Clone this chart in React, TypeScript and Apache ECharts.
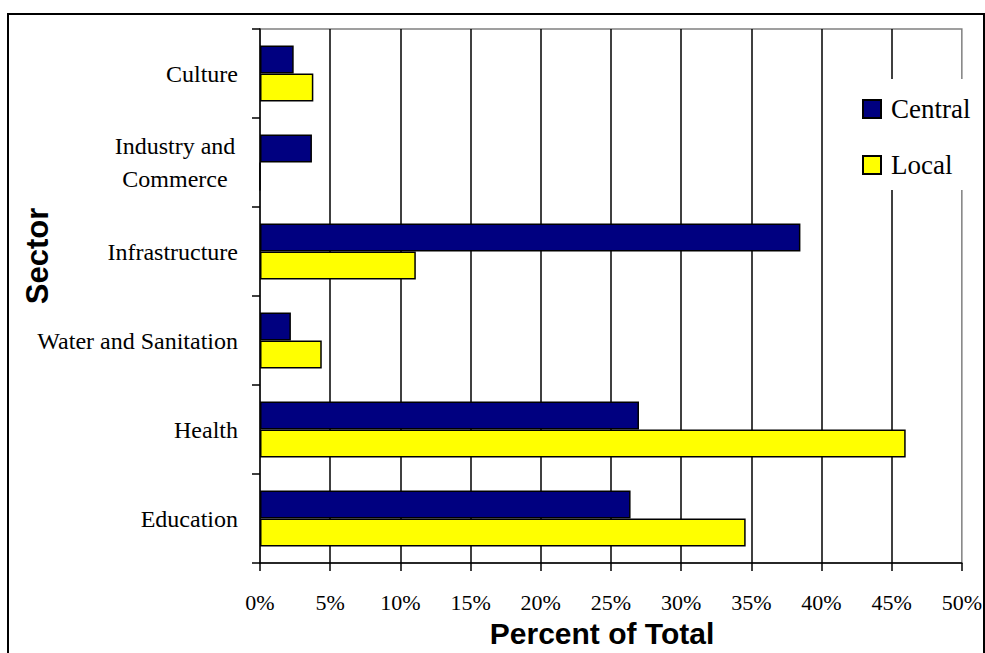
import React, { useEffect, useRef } from "react";
import * as echarts from "echarts";

const categories = [
  "Culture",
  "Industry and\nCommerce",
  "Infrastructure",
  "Water and Sanitation",
  "Health",
  "Education",
];
const centralValues = [2.4, 3.7, 38.5, 2.2, 27.0, 26.4];
const localValues = [3.8, 0, 11.1, 4.4, 46.0, 34.6];
const seriesNames = ["Central", "Local"];
const xTicks = [0, 5, 10, 15, 20, 25, 30, 35, 40, 45, 50];
const xTitle = "Percent of Total";
const yTitle = "Sector";

const SERIF = "'Liberation Serif', 'Times New Roman', serif";
const SANS = "'Liberation Sans', Arial, sans-serif";

export default function App() {
  const ref = useRef<HTMLDivElement>(null);
  useEffect(() => {
    document.body.style.margin = "0";
    if (!ref.current) return;
    const chart = echarts.init(ref.current, undefined, { renderer: "svg" });
    chart.setOption({
      animation: false,
      backgroundColor: "#ffffff",
      grid: {
        left: 260,
        right: 23,
        top: 29,
        bottom: 90,
        show: true,
        borderColor: "#808080",
        borderWidth: 1.5,
      },
      legend: {
        orient: "vertical",
        left: 850,
        top: 79,
        padding: [16, 6, 11, 12],
        backgroundColor: "#ffffff",
        icon: "rect",
        itemWidth: 18,
        itemHeight: 18,
        itemGap: 28,
        data: seriesNames,
        textStyle: {
          fontFamily: SERIF,
          fontSize: 27,
          lineHeight: 28,
          color: "#000",
          padding: [0, 0, 0, 5],
        },
      },
      xAxis: {
        type: "value",
        position: "bottom",
        min: xTicks[0],
        max: xTicks[xTicks.length - 1],
        interval: 5,
        axisLine: { show: true, onZero: false, lineStyle: { color: "#000", width: 1.5 } },
        axisTick: { show: true, inside: false, length: 8, lineStyle: { color: "#000", width: 1.5 } },
        axisLabel: {
          margin: 28,
          fontFamily: SERIF,
          fontSize: 22,
          color: "#000",
          formatter: (v: number) => `${v}%`,
        },
        splitLine: {
          show: true,
          showMinLine: false,
          showMaxLine: false,
          lineStyle: { color: "#000", width: 1.5 },
        },
      },
      yAxis: {
        type: "category",
        inverse: true,
        data: categories,
        axisLine: { show: true, lineStyle: { color: "#000", width: 1.5 } },
        axisTick: { show: true, inside: false, length: 8, lineStyle: { color: "#000", width: 1.5 } },
        axisLabel: {
          margin: 22,
          fontFamily: SERIF,
          fontSize: 24,
          color: "#000",
          formatter: (v: string) =>
            v.indexOf("\n") >= 0
              ? v
                  .split("\n")
                  .map((s) => `{c|${s}}`)
                  .join("\n")
              : v,
          rich: {
            c: {
              width: 126,
              align: "center",
              fontFamily: SERIF,
              fontSize: 24,
              lineHeight: 33,
              color: "#000",
            },
          },
        },
        splitLine: { show: false },
      },
      series: [
        {
          name: seriesNames[0],
          type: "bar",
          data: centralValues,
          barGap: "0%",
          barCategoryGap: "37%",
          itemStyle: { color: "#000080", borderColor: "#000", borderWidth: 1.5 },
        },
        {
          name: seriesNames[1],
          type: "bar",
          data: localValues,
          barGap: "0%",
          barCategoryGap: "37%",
          itemStyle: { color: "#ffff00", borderColor: "#000", borderWidth: 1.5 },
        },
      ],
      graphic: [
        {
          type: "rect",
          shape: { x: 8, y: 14, width: 976, height: 700 },
          style: { fill: "none", stroke: "#000", lineWidth: 2 },
          silent: true,
          z: 100,
        },
        {
          type: "text",
          x: 602,
          y: 648,
          style: {
            text: xTitle,
            fontFamily: SANS,
            fontWeight: "bold",
            fontSize: 30,
            fill: "#000",
            align: "center",
            verticalAlign: "bottom",
          },
        },
        {
          type: "text",
          x: 37,
          y: 256,
          rotation: Math.PI / 2,
          style: {
            text: yTitle,
            fontFamily: SANS,
            fontWeight: "bold",
            fontSize: 31,
            fill: "#000",
            align: "center",
            verticalAlign: "middle",
          },
        },
      ],
    });
    return () => chart.dispose();
  }, []);
  return <div ref={ref} style={{ width: 985, height: 653 }} />;
}
